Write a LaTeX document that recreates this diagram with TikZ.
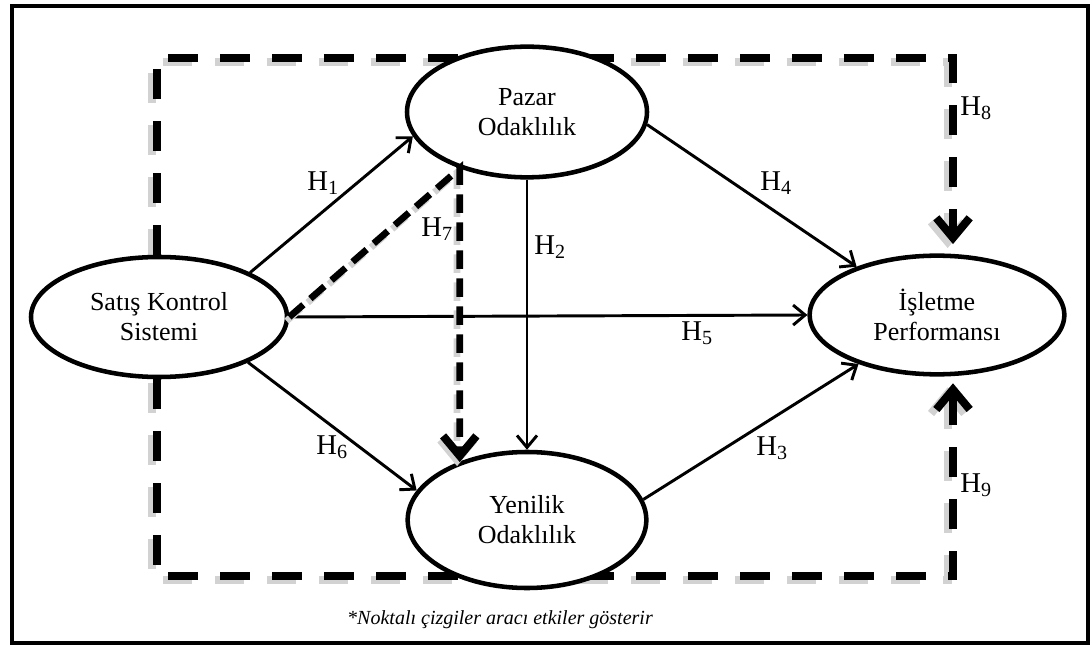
\documentclass[tikz,border=0pt]{standalone}
\usepackage{fontspec}
\setmainfont{Liberation Serif}
\usetikzlibrary{arrows.meta,backgrounds,shapes.geometric}

\begin{document}
\begin{tikzpicture}[x=0.75pt,y=-0.75pt,
  construct/.style={draw,ellipse,line width=3.4pt,fill=white,inner sep=0pt,
    align=center,font=\fontsize{19.5}{22.5}\selectfont},
  hyp/.style={line width=2.2pt,-{Straight Barb[length=9pt,width=15pt]}},
  hlabel/.style={font=\fontsize{21.5}{24}\selectfont,inner sep=0pt},
  medline/.style={line width=6pt,dash pattern=on 22pt off 17pt,
    preaction={draw=gray!35,line width=6pt,dash pattern=on 22pt off 17pt,
      transform canvas={shift={(-4pt,-3pt)}}}},
  medpath/.style={line width=5pt,dash pattern=on 14pt off 7pt,
    preaction={draw=gray!35,line width=5pt,dash pattern=on 14pt off 7pt,
      transform canvas={shift={(-2pt,-3pt)}}}},
  medtip/.style={-{Straight Barb[length=15pt,width=25pt,line width=6pt]}}]
  \useasboundingbox (0,0) rectangle (1092,645);
  \draw[line width=3pt] (11.5,6) rectangle (1088,642.5);

  % constructs
  \node[construct,minimum width=192pt,minimum height=90pt] (satis) at (159,317) {Satış Kontrol\\Sistemi};
  \node[construct,minimum width=180pt,minimum height=98pt] (pazar) at (527,112) {Pazar\\Odaklılık};
  \node[construct,minimum width=179pt,minimum height=102pt] (yenilik) at (527,520) {Yenilik\\Odaklılık};
  \node[construct,minimum width=191pt,minimum height=89pt] (isletme) at (937,315) {İşletme\\Performansı};

  % mediated paths (frame around the model)
  \coordinate (tl) at (157,58);
  \coordinate (tr) at (953,58);
  \coordinate (bl) at (157,576);
  \coordinate (br) at (953,576);
  \begin{scope}[on background layer]
    \draw[medline,medtip,shorten >=7pt] (satis.north -| tl) -- (tl) -- (tr) -- (isletme.north -| tr);
    \draw[medline,medtip,shorten >=5pt] (satis.south -| bl) -- (bl) -- (br) -- (isletme.south -| br);
  \end{scope}

  % direct effects
  \draw[hyp] (satis.26) -- (pazar.192);
  \draw[hyp] (pazar.south) -- (yenilik.north);
  \draw[hyp] (pazar.-6) -- (isletme.149);
  \draw[hyp] (satis.east) -- (isletme.west);
  \draw[hyp] (satis.-27) -- (yenilik.165);
  \draw[hyp] (yenilik.10) -- (isletme.212);

  % H7 through Pazar Odaklilik
  \draw[medpath,medtip] (satis.east) -- (pazar.220) -- (pazar.220 |- yenilik.140);

  \node[hlabel] (h1) at (323,183) {H\textsubscript{1}};
  \node[hlabel] (h2) at (550,247) {H\textsubscript{2}};
  \node[hlabel] (h3) at (772,448) {H\textsubscript{3}};
  \node[hlabel] (h4) at (776,183) {H\textsubscript{4}};
  \node[hlabel] (h5) at (697,333) {H\textsubscript{5}};
  \node[hlabel] (h6) at (332,447) {H\textsubscript{6}};
  \node[hlabel] (h7) at (437,229) {H\textsubscript{7}};
  \node[hlabel] (h8) at (976,108) {H\textsubscript{8}};
  \node[hlabel] (h9) at (976,485) {H\textsubscript{9}};

  \node[font=\fontsize{15}{17}\selectfont\itshape] (note) at (500,620) {*Noktalı çizgiler aracı etkiler gösterir};
\end{tikzpicture}
\end{document}
